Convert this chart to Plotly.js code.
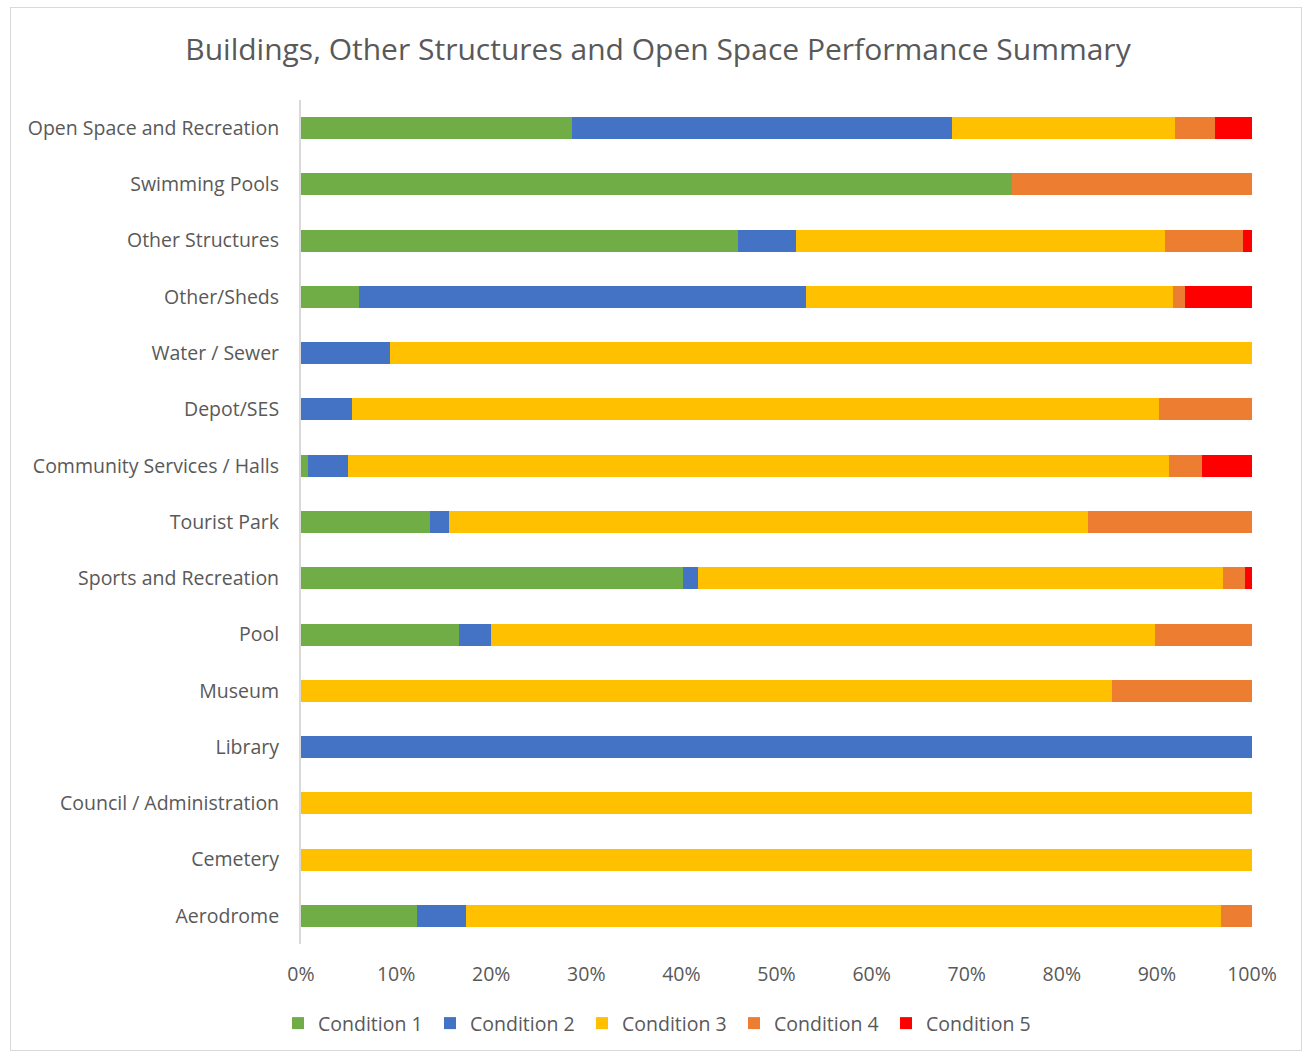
<!DOCTYPE html>
<html>
<head>
<meta charset="utf-8">
<script src="https://cdn.plot.ly/plotly-3.0.1.min.js"></script>
<style>
  html, body { margin: 0; padding: 0; background: #fff; }
  #wrap { position: relative; width: 1304px; height: 1054px; }
  #chart { position: absolute; left: 0; top: 0; width: 1304px; height: 1054px; }
  #frame { position: absolute; left: 10px; top: 7px; width: 1292px; height: 1044px; border: 1px solid #d9d9d9; box-sizing: border-box; pointer-events: none; }
</style>
</head>
<body>
<div id="wrap">
  <div id="chart"></div>
  <div id="frame"></div>
</div>
<script>
const categories = [
  "Open Space and Recreation",
  "Swimming Pools",
  "Other Structures",
  "Other/Sheds",
  "Water / Sewer",
  "Depot/SES",
  "Community Services / Halls",
  "Tourist Park",
  "Sports and Recreation",
  "Pool",
  "Museum",
  "Library",
  "Council / Administration",
  "Cemetery",
  "Aerodrome"
];

const condition1 = [28.5, 74.8, 45.9, 6.1, 0,   0,    0.7, 13.6, 40.2, 16.6, 0,    0,   0,   0,   12.2];
const condition2 = [40.0, 0,    6.2,  47.0, 9.4, 5.4,  4.2, 2.0,  1.5,  3.4,  0,    100, 0,   0,   5.2];
const condition3 = [23.4, 0,    38.7, 38.6, 90.6, 84.8, 86.4, 67.2, 55.3, 69.8, 85.3, 0,   100, 100, 79.3];
const condition4 = [4.2,  25.2, 8.3,  1.3,  0,   9.8,  3.4, 17.2, 2.3,  10.2, 14.7, 0,   0,   0,   3.3];
const condition5 = [3.9,  0,    0.9,  7.0,  0,   0,    5.3, 0,    0.7,  0,    0,    0,   0,   0,   0];

const seriesNames = ["Condition 1", "Condition 2", "Condition 3", "Condition 4", "Condition 5"];
const seriesColors = ["#70AD47", "#4472C4", "#FFC000", "#ED7D31", "#FF0000"];
const seriesValues = [condition1, condition2, condition3, condition4, condition5];

const tickVals = [0, 10, 20, 30, 40, 50, 60, 70, 80, 90, 100];
const tickText = ["0%", "10%", "20%", "30%", "40%", "50%", "60%", "70%", "80%", "90%", "100%"];

const FONT = "'Open Sans', 'Noto Sans', sans-serif";
const GREY = "#595959";

const traces = seriesNames.map((name, i) => ({
  type: "bar",
  orientation: "h",
  name: name,
  x: seriesValues[i],
  y: categories,
  marker: { color: seriesColors[i], line: { width: 0 } },
  hoverinfo: "name+x+y"
}));

const layout = {
  width: 1304,
  height: 1054,
  margin: { l: 301, r: 52, t: 100, b: 110 },
  paper_bgcolor: "#ffffff",
  plot_bgcolor: "#ffffff",
  barmode: "stack",
  bargap: 0.61,
  font: { family: FONT, color: GREY, size: 19.5 },
  title: {
    text: "Buildings, Other Structures and Open Space Performance Summary",
    font: { family: FONT, size: 30, color: GREY },
    x: 0.5046,
    xanchor: "center",
    y: 0.953,
    yanchor: "middle"
  },
  xaxis: {
    range: [0, 100],
    tickvals: tickVals,
    ticktext: tickText,
    showgrid: false,
    zeroline: false,
    showline: false,
    ticks: "",
    ticklabelstandoff: 16,
    tickfont: { family: FONT, size: 19.5, color: GREY },
    fixedrange: true
  },
  yaxis: {
    type: "category",
    autorange: "reversed",
    showgrid: false,
    zeroline: false,
    showline: true,
    linecolor: "#d9d9d9",
    linewidth: 2,
    ticks: "",
    ticklabelstandoff: 16,
    tickfont: { family: FONT, size: 19.5, color: GREY },
    fixedrange: true
  },
  legend: {
    orientation: "h",
    x: 0.5046,
    xanchor: "center",
    xref: "container",
    y: 0.029,
    yref: "container",
    yanchor: "middle",
    font: { family: FONT, size: 19.5, color: GREY },
    itemwidth: 30,
    entrywidth: 107,
    entrywidthmode: "pixels",
    traceorder: "normal"
  },
  showlegend: true
};

Plotly.newPlot("chart", traces, layout, { displayModeBar: false, staticPlot: true });
</script>
</body>
</html>
